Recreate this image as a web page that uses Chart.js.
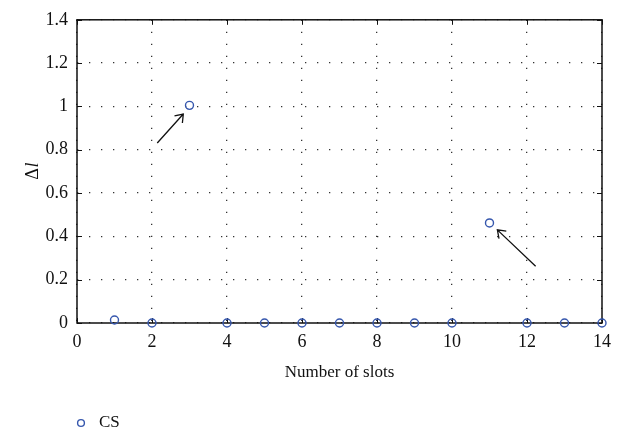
<!DOCTYPE html>
<html>
<head>
<meta charset="utf-8">
<script src="https://cdn.jsdelivr.net/npm/chart.js@4"></script>
<style>
  html, body { margin: 0; padding: 0; background: #ffffff; }
  canvas { display: block; }
</style>
</head>
<body>
<canvas id="chart" width="619" height="434"></canvas>
<script>
// Δl measured for each slot count
const slots  = [1, 2, 3, 4, 5, 6, 7, 8, 9, 10, 11, 12, 13, 14];
const deltaL = [0.014, 0, 1.005, 0, 0, 0, 0, 0, 0, 0, 0.462, 0, 0, 0];
const seriesName = 'CS';

// arrows pointing at the two outliers, in data units (tail -> head)
const arrowTails = [[2.14, 0.831], [12.23, 0.262]];
const arrowHeads = [[2.835, 0.965], [11.21, 0.430]];

const xTitle = 'Number of slots';
const yTitleMain = 'Δ';
const yTitleItalic = 'l';

const serif = '"Liberation Serif", "Times New Roman", serif';
const ink = '#111111';
const markerBlue = '#3657ad';

// box around the plot with inward tick marks
const framePlugin = {
  id: 'frame',
  beforeDatasetsDraw(chart) {
    const { ctx, chartArea: a, scales: { x, y } } = chart;
    const tick = 5;
    ctx.save();
    ctx.strokeStyle = ink;
    ctx.lineWidth = 1;
    ctx.beginPath();
    x.ticks.forEach(t => {
      const px = Math.round(x.getPixelForValue(t.value)) + 0.5;
      ctx.moveTo(px, a.bottom); ctx.lineTo(px, a.bottom - tick);
      ctx.moveTo(px, a.top);    ctx.lineTo(px, a.top + tick);
    });
    y.ticks.forEach(t => {
      const py = Math.round(y.getPixelForValue(t.value)) + 0.5;
      ctx.moveTo(a.left, py);  ctx.lineTo(a.left + tick, py);
      ctx.moveTo(a.right, py); ctx.lineTo(a.right - tick, py);
    });
    ctx.stroke();
    ctx.lineWidth = 1.5;
    ctx.strokeRect(a.left, a.top, a.right - a.left, a.bottom - a.top);
    ctx.restore();
  }
};

// annotation arrows, y-axis title with italic symbol, and the legend entry
const extrasPlugin = {
  id: 'extras',
  afterDraw(chart) {
    const { ctx, scales: { x, y } } = chart;
    ctx.save();
    ctx.strokeStyle = ink;
    ctx.lineWidth = 1.3;
    arrowTails.forEach((tail, i) => {
      const head = arrowHeads[i];
      const x0 = x.getPixelForValue(tail[0]), y0 = y.getPixelForValue(tail[1]);
      const x1 = x.getPixelForValue(head[0]), y1 = y.getPixelForValue(head[1]);
      const ang = Math.atan2(y1 - y0, x1 - x0);
      const len = 9, spread = Math.PI / 5;
      ctx.beginPath();
      ctx.moveTo(x0, y0); ctx.lineTo(x1, y1);
      ctx.moveTo(x1 - len * Math.cos(ang - spread), y1 - len * Math.sin(ang - spread));
      ctx.lineTo(x1, y1);
      ctx.lineTo(x1 - len * Math.cos(ang + spread), y1 - len * Math.sin(ang + spread));
      ctx.stroke();
    });

    // rotated y-axis title: upright Δ followed by italic l
    const a = chart.chartArea;
    const mainFont = '18px ' + serif;
    const italFont = 'italic 18px ' + serif;
    ctx.font = mainFont;
    const w1 = ctx.measureText(yTitleMain).width;
    ctx.font = italFont;
    const w2 = ctx.measureText(yTitleItalic).width;
    ctx.translate(33, (a.top + a.bottom) / 2);
    ctx.rotate(-Math.PI / 2);
    ctx.fillStyle = ink;
    ctx.textBaseline = 'middle';
    ctx.textAlign = 'left';
    ctx.font = mainFont;
    ctx.fillText(yTitleMain, -(w1 + w2) / 2, 0);
    ctx.font = italFont;
    ctx.fillText(yTitleItalic, -(w1 + w2) / 2 + w1 + 0.5, 0);
    ctx.setTransform(1, 0, 0, 1, 0, 0);

    // legend entry below the axis title
    const ds = chart.data.datasets[0];
    ctx.beginPath();
    ctx.strokeStyle = ds.pointBorderColor;
    ctx.lineWidth = ds.pointBorderWidth;
    ctx.arc(81, 423, 3.4, 0, Math.PI * 2);
    ctx.stroke();
    ctx.fillStyle = ink;
    ctx.font = '17px ' + serif;
    ctx.textBaseline = 'middle';
    ctx.fillText(ds.label, 99, 423);
    ctx.restore();
  }
};

const dottedGrid = {
  color: 'rgba(0,0,0,0.8)',
  lineWidth: 1.3,
  drawTicks: false
};

new Chart(document.getElementById('chart'), {
  type: 'scatter',
  data: {
    datasets: [{
      label: seriesName,
      data: slots.map((s, i) => ({ x: s, y: deltaL[i] })),
      showLine: false,
      pointStyle: 'circle',
      pointRadius: 4,
      pointHoverRadius: 4,
      pointBorderWidth: 1.4,
      pointBorderColor: markerBlue,
      pointBackgroundColor: 'rgba(0,0,0,0)',
      clip: false
    }]
  },
  options: {
    responsive: false,
    animation: false,
    events: [],
    layout: { padding: { top: 18, right: 17, left: 0, bottom: 0 } },
    plugins: {
      legend: { display: false },
      tooltip: { enabled: false }
    },
    scales: {
      x: {
        type: 'linear',
        min: 0, max: 14,
        border: { display: false, dash: [1.3, 10.7] },
        grid: dottedGrid,
        ticks: {
          stepSize: 2,
          padding: 8,
          color: ink,
          font: { family: serif, size: 18 },
          maxRotation: 0
        },
        title: {
          display: true,
          text: xTitle,
          color: ink,
          font: { family: serif, size: 17 },
          padding: { top: 0, bottom: 51 }
        },
        afterFit(scale) { scale.height = 111; }
      },
      y: {
        type: 'linear',
        min: 0, max: 1.4,
        border: { display: false, dash: [1.3, 10.7] },
        grid: dottedGrid,
        ticks: {
          stepSize: 0.2,
          padding: 9,
          color: ink,
          font: { family: serif, size: 18 },
          callback: v => String(Math.round(v * 10) / 10)
        },
        afterFit(scale) { scale.width = 77; }
      }
    }
  },
  plugins: [framePlugin, extrasPlugin]
});
</script>
</body>
</html>
